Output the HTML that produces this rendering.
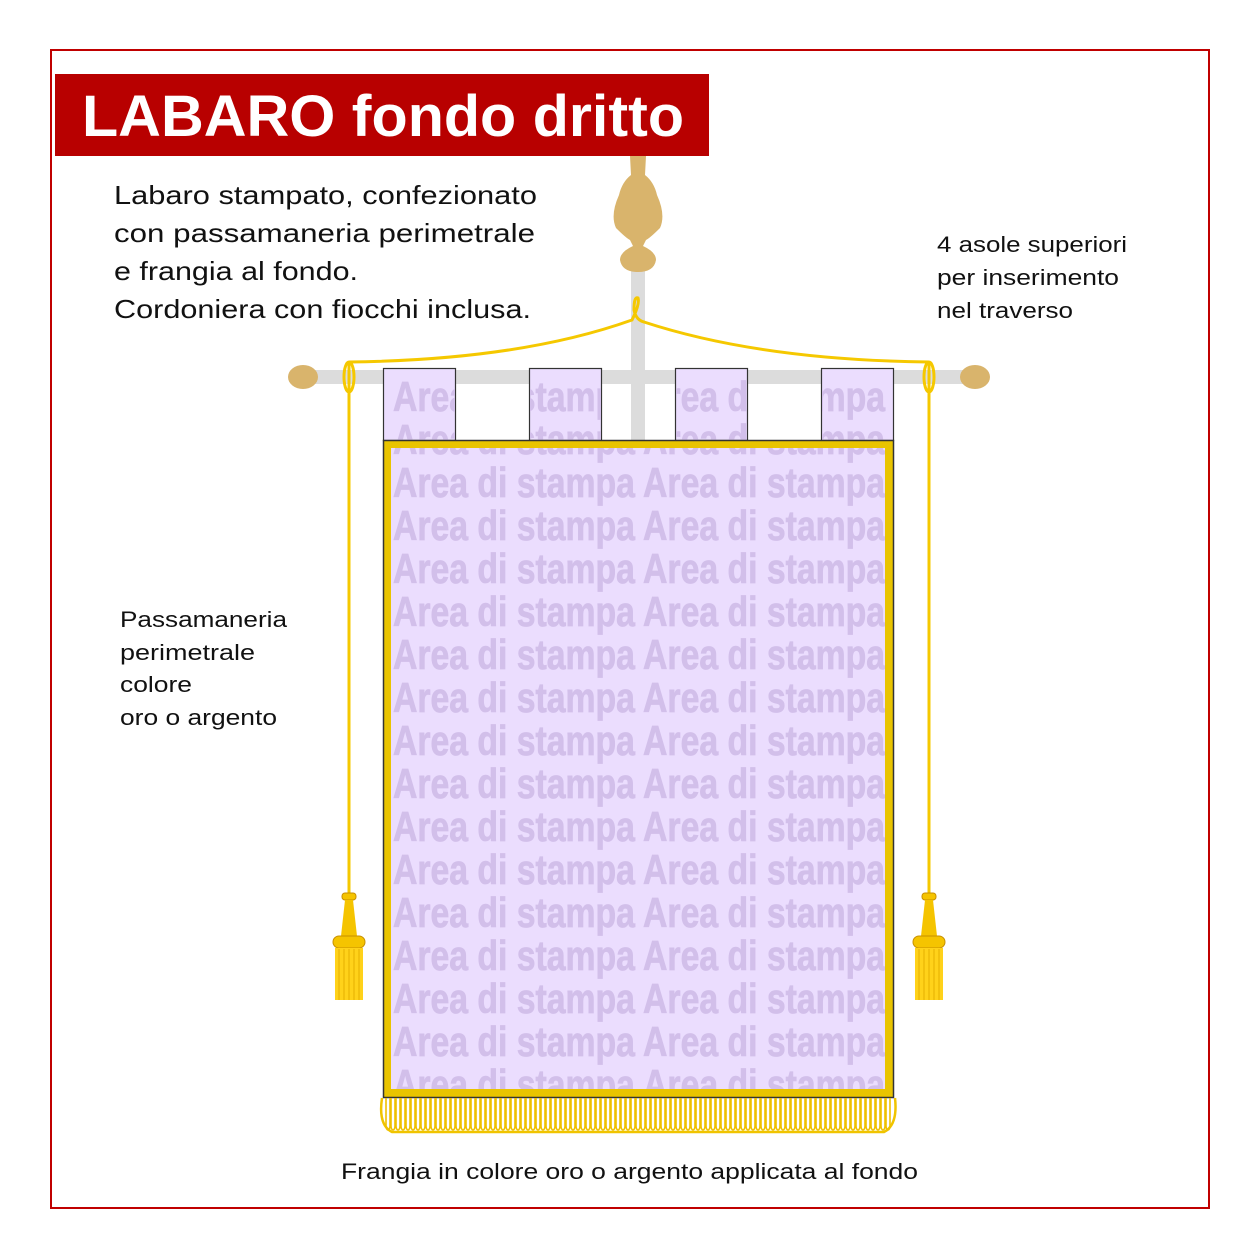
<!DOCTYPE html>
<html><head><meta charset="utf-8"><style>
html,body{margin:0;padding:0;background:#fff;}
svg{display:block;}
text{font-family:"Liberation Sans",sans-serif;}
</style></head><body>
<svg width="1260" height="1260" viewBox="0 0 1260 1260" xmlns="http://www.w3.org/2000/svg">
<defs>
<clipPath id="cb"><rect x="391" y="448" width="494" height="641"/></clipPath>
<clipPath id="c1"><rect x="384" y="369" width="71" height="71"/></clipPath>
<clipPath id="c2"><rect x="530" y="369" width="71" height="71"/></clipPath>
<clipPath id="c3"><rect x="676" y="369" width="71" height="71"/></clipPath>
<clipPath id="c4"><rect x="822" y="369" width="71" height="71"/></clipPath>
<g id="rows" fill="#d2bfea" font-weight="bold" font-size="42" stroke="#d2bfea" stroke-width="0.8">
<text x="393" y="411" textLength="492" lengthAdjust="spacingAndGlyphs">Area di stampa Area di stampa</text>
<text x="393" y="454" textLength="492" lengthAdjust="spacingAndGlyphs">Area di stampa Area di stampa</text>
<text x="393" y="497" textLength="492" lengthAdjust="spacingAndGlyphs">Area di stampa Area di stampa</text>
<text x="393" y="540" textLength="492" lengthAdjust="spacingAndGlyphs">Area di stampa Area di stampa</text>
<text x="393" y="583" textLength="492" lengthAdjust="spacingAndGlyphs">Area di stampa Area di stampa</text>
<text x="393" y="626" textLength="492" lengthAdjust="spacingAndGlyphs">Area di stampa Area di stampa</text>
<text x="393" y="669" textLength="492" lengthAdjust="spacingAndGlyphs">Area di stampa Area di stampa</text>
<text x="393" y="712" textLength="492" lengthAdjust="spacingAndGlyphs">Area di stampa Area di stampa</text>
<text x="393" y="755" textLength="492" lengthAdjust="spacingAndGlyphs">Area di stampa Area di stampa</text>
<text x="393" y="798" textLength="492" lengthAdjust="spacingAndGlyphs">Area di stampa Area di stampa</text>
<text x="393" y="841" textLength="492" lengthAdjust="spacingAndGlyphs">Area di stampa Area di stampa</text>
<text x="393" y="884" textLength="492" lengthAdjust="spacingAndGlyphs">Area di stampa Area di stampa</text>
<text x="393" y="927" textLength="492" lengthAdjust="spacingAndGlyphs">Area di stampa Area di stampa</text>
<text x="393" y="970" textLength="492" lengthAdjust="spacingAndGlyphs">Area di stampa Area di stampa</text>
<text x="393" y="1013" textLength="492" lengthAdjust="spacingAndGlyphs">Area di stampa Area di stampa</text>
<text x="393" y="1056" textLength="492" lengthAdjust="spacingAndGlyphs">Area di stampa Area di stampa</text>
<text x="393" y="1099" textLength="492" lengthAdjust="spacingAndGlyphs">Area di stampa Area di stampa</text>
</g>
<g id="tassel">
<rect x="-7" y="0" width="14" height="7" rx="3" fill="#f5c400" stroke="#c89000" stroke-width="1"/>
<path d="M-4 7 L4 7 L8 43 L-8 43 Z" fill="#f5c400"/>
<rect x="-16" y="43" width="32" height="12" rx="6" fill="#f5c400" stroke="#c89000" stroke-width="1"/>
<rect x="-14" y="55" width="28" height="52" fill="#ffd21a"/>
<g stroke="#e6b000" stroke-width="1">
<line x1="-10" y1="56" x2="-10" y2="107"/><line x1="-5" y1="56" x2="-5" y2="107"/><line x1="0" y1="56" x2="0" y2="107"/><line x1="5" y1="56" x2="5" y2="107"/><line x1="10" y1="56" x2="10" y2="107"/>
</g>
</g>
</defs>
<rect x="51" y="50" width="1158" height="1158" fill="none" stroke="#c00000" stroke-width="2"/>
<rect x="55" y="74" width="654" height="82" fill="#b80000"/>
<text x="82" y="136" fill="#fff" font-weight="bold" font-size="58" textLength="602" lengthAdjust="spacingAndGlyphs">LABARO fondo dritto</text>
<g font-size="26" fill="#111">
<text x="114" y="204" textLength="423" lengthAdjust="spacingAndGlyphs">Labaro stampato, confezionato</text>
<text x="114" y="242" textLength="421" lengthAdjust="spacingAndGlyphs">con passamaneria perimetrale</text>
<text x="114" y="280" textLength="244" lengthAdjust="spacingAndGlyphs">e frangia al fondo.</text>
<text x="114" y="318" textLength="417" lengthAdjust="spacingAndGlyphs">Cordoniera con fiocchi inclusa.</text>
</g>
<g font-size="22" fill="#111">
<text x="937" y="252" textLength="190" lengthAdjust="spacingAndGlyphs">4 asole superiori</text>
<text x="937" y="285" textLength="182" lengthAdjust="spacingAndGlyphs">per inserimento</text>
<text x="937" y="318" textLength="136" lengthAdjust="spacingAndGlyphs">nel traverso</text>
<text x="120" y="627" textLength="167" lengthAdjust="spacingAndGlyphs">Passamaneria</text>
<text x="120" y="660" textLength="135" lengthAdjust="spacingAndGlyphs">perimetrale</text>
<text x="120" y="692" textLength="72" lengthAdjust="spacingAndGlyphs">colore</text>
<text x="120" y="725" textLength="157" lengthAdjust="spacingAndGlyphs">oro o argento</text>
<text x="341" y="1179" textLength="577" lengthAdjust="spacingAndGlyphs">Frangia in colore oro o argento applicata al fondo</text>
</g>
<rect x="631" y="265" width="14" height="180" fill="#dcdcdc"/>
<rect x="303" y="370" width="672" height="14" fill="#dcdcdc"/>
<ellipse cx="303" cy="377" rx="15" ry="12" fill="#d9b46c"/>
<ellipse cx="975" cy="377" rx="15" ry="12" fill="#d9b46c"/>
<path d="M630 156 L646 156 L645 175 Q654 182 657 195 Q666 215 660 228 Q650 238 646 240 L643 246 Q656 252 656 260 Q654 272 638 272 Q622 272 620 260 Q620 252 633 246 L630 240 Q626 238 616 228 Q610 215 619 195 Q622 182 631 175 Z" fill="#d9b46c"/>
<g fill="#ebddfe" stroke="#333" stroke-width="1.2">
<rect x="383.5" y="368.5" width="72" height="72"/>
<rect x="529.5" y="368.5" width="72" height="72"/>
<rect x="675.5" y="368.5" width="72" height="72"/>
<rect x="821.5" y="368.5" width="72" height="72"/>
</g>
<g clip-path="url(#c1)"><use href="#rows"/></g>
<g clip-path="url(#c2)"><use href="#rows"/></g>
<g clip-path="url(#c3)"><use href="#rows"/></g>
<g clip-path="url(#c4)"><use href="#rows"/></g>
<rect x="383.5" y="440.5" width="510" height="657" fill="#e9c400" stroke="#333" stroke-width="1.5"/>
<rect x="391" y="448" width="494" height="641" fill="#ebddfe"/>
<g clip-path="url(#cb)"><use href="#rows"/></g>
<g stroke="#f0c400" fill="none">
<path d="M382 1098 Q378 1125 392 1132 L884 1132 Q898 1125 895 1098" stroke-width="2.5"/>
</g>
<g stroke="#eec000" stroke-width="1.6" fill="none">
<path d="M386 1098 v28 a2 4 0 0 0 4 0 v-28 M391 1098 v28 a2 4 0 0 0 4 0 v-28 M396 1098 v28 a2 4 0 0 0 4 0 v-28 M401 1098 v28 a2 4 0 0 0 4 0 v-28 M406 1098 v28 a2 4 0 0 0 4 0 v-28 M411 1098 v28 a2 4 0 0 0 4 0 v-28 M416 1098 v28 a2 4 0 0 0 4 0 v-28 M421 1098 v28 a2 4 0 0 0 4 0 v-28 M426 1098 v28 a2 4 0 0 0 4 0 v-28 M431 1098 v28 a2 4 0 0 0 4 0 v-28 M436 1098 v28 a2 4 0 0 0 4 0 v-28 M441 1098 v28 a2 4 0 0 0 4 0 v-28 M446 1098 v28 a2 4 0 0 0 4 0 v-28 M451 1098 v28 a2 4 0 0 0 4 0 v-28 M456 1098 v28 a2 4 0 0 0 4 0 v-28 M461 1098 v28 a2 4 0 0 0 4 0 v-28 M466 1098 v28 a2 4 0 0 0 4 0 v-28 M471 1098 v28 a2 4 0 0 0 4 0 v-28 M476 1098 v28 a2 4 0 0 0 4 0 v-28 M481 1098 v28 a2 4 0 0 0 4 0 v-28 M486 1098 v28 a2 4 0 0 0 4 0 v-28 M491 1098 v28 a2 4 0 0 0 4 0 v-28 M496 1098 v28 a2 4 0 0 0 4 0 v-28 M501 1098 v28 a2 4 0 0 0 4 0 v-28 M506 1098 v28 a2 4 0 0 0 4 0 v-28 M511 1098 v28 a2 4 0 0 0 4 0 v-28 M516 1098 v28 a2 4 0 0 0 4 0 v-28 M521 1098 v28 a2 4 0 0 0 4 0 v-28 M526 1098 v28 a2 4 0 0 0 4 0 v-28 M531 1098 v28 a2 4 0 0 0 4 0 v-28 M536 1098 v28 a2 4 0 0 0 4 0 v-28 M541 1098 v28 a2 4 0 0 0 4 0 v-28 M546 1098 v28 a2 4 0 0 0 4 0 v-28 M551 1098 v28 a2 4 0 0 0 4 0 v-28 M556 1098 v28 a2 4 0 0 0 4 0 v-28 M561 1098 v28 a2 4 0 0 0 4 0 v-28 M566 1098 v28 a2 4 0 0 0 4 0 v-28 M571 1098 v28 a2 4 0 0 0 4 0 v-28 M576 1098 v28 a2 4 0 0 0 4 0 v-28 M581 1098 v28 a2 4 0 0 0 4 0 v-28 M586 1098 v28 a2 4 0 0 0 4 0 v-28 M591 1098 v28 a2 4 0 0 0 4 0 v-28 M596 1098 v28 a2 4 0 0 0 4 0 v-28 M601 1098 v28 a2 4 0 0 0 4 0 v-28 M606 1098 v28 a2 4 0 0 0 4 0 v-28 M611 1098 v28 a2 4 0 0 0 4 0 v-28 M616 1098 v28 a2 4 0 0 0 4 0 v-28 M621 1098 v28 a2 4 0 0 0 4 0 v-28 M626 1098 v28 a2 4 0 0 0 4 0 v-28 M631 1098 v28 a2 4 0 0 0 4 0 v-28 M636 1098 v28 a2 4 0 0 0 4 0 v-28 M641 1098 v28 a2 4 0 0 0 4 0 v-28 M646 1098 v28 a2 4 0 0 0 4 0 v-28 M651 1098 v28 a2 4 0 0 0 4 0 v-28 M656 1098 v28 a2 4 0 0 0 4 0 v-28 M661 1098 v28 a2 4 0 0 0 4 0 v-28 M666 1098 v28 a2 4 0 0 0 4 0 v-28 M671 1098 v28 a2 4 0 0 0 4 0 v-28 M676 1098 v28 a2 4 0 0 0 4 0 v-28 M681 1098 v28 a2 4 0 0 0 4 0 v-28 M686 1098 v28 a2 4 0 0 0 4 0 v-28 M691 1098 v28 a2 4 0 0 0 4 0 v-28 M696 1098 v28 a2 4 0 0 0 4 0 v-28 M701 1098 v28 a2 4 0 0 0 4 0 v-28 M706 1098 v28 a2 4 0 0 0 4 0 v-28 M711 1098 v28 a2 4 0 0 0 4 0 v-28 M716 1098 v28 a2 4 0 0 0 4 0 v-28 M721 1098 v28 a2 4 0 0 0 4 0 v-28 M726 1098 v28 a2 4 0 0 0 4 0 v-28 M731 1098 v28 a2 4 0 0 0 4 0 v-28 M736 1098 v28 a2 4 0 0 0 4 0 v-28 M741 1098 v28 a2 4 0 0 0 4 0 v-28 M746 1098 v28 a2 4 0 0 0 4 0 v-28 M751 1098 v28 a2 4 0 0 0 4 0 v-28 M756 1098 v28 a2 4 0 0 0 4 0 v-28 M761 1098 v28 a2 4 0 0 0 4 0 v-28 M766 1098 v28 a2 4 0 0 0 4 0 v-28 M771 1098 v28 a2 4 0 0 0 4 0 v-28 M776 1098 v28 a2 4 0 0 0 4 0 v-28 M781 1098 v28 a2 4 0 0 0 4 0 v-28 M786 1098 v28 a2 4 0 0 0 4 0 v-28 M791 1098 v28 a2 4 0 0 0 4 0 v-28 M796 1098 v28 a2 4 0 0 0 4 0 v-28 M801 1098 v28 a2 4 0 0 0 4 0 v-28 M806 1098 v28 a2 4 0 0 0 4 0 v-28 M811 1098 v28 a2 4 0 0 0 4 0 v-28 M816 1098 v28 a2 4 0 0 0 4 0 v-28 M821 1098 v28 a2 4 0 0 0 4 0 v-28 M826 1098 v28 a2 4 0 0 0 4 0 v-28 M831 1098 v28 a2 4 0 0 0 4 0 v-28 M836 1098 v28 a2 4 0 0 0 4 0 v-28 M841 1098 v28 a2 4 0 0 0 4 0 v-28 M846 1098 v28 a2 4 0 0 0 4 0 v-28 M851 1098 v28 a2 4 0 0 0 4 0 v-28 M856 1098 v28 a2 4 0 0 0 4 0 v-28 M861 1098 v28 a2 4 0 0 0 4 0 v-28 M866 1098 v28 a2 4 0 0 0 4 0 v-28 M871 1098 v28 a2 4 0 0 0 4 0 v-28 M876 1098 v28 a2 4 0 0 0 4 0 v-28 M881 1098 v28 a2 4 0 0 0 4 0 v-28 M886 1098 v28 a2 4 0 0 0 4 0 v-28"/>
</g>
<g stroke="#f5c800" stroke-width="3" fill="none">
<path d="M349 362 Q520 360 632 320 Q640 304 638 298 Q634 296 634 310 Q636 320 644 322 Q760 360 929 362"/>
<ellipse cx="349" cy="377" rx="5" ry="15"/>
<ellipse cx="929" cy="377" rx="5" ry="15"/>
<line x1="349" y1="362" x2="349" y2="893"/>
<line x1="929" y1="362" x2="929" y2="893"/>
</g>
<use href="#tassel" x="349" y="893"/>
<use href="#tassel" x="929" y="893"/>
</svg>
</body></html>
